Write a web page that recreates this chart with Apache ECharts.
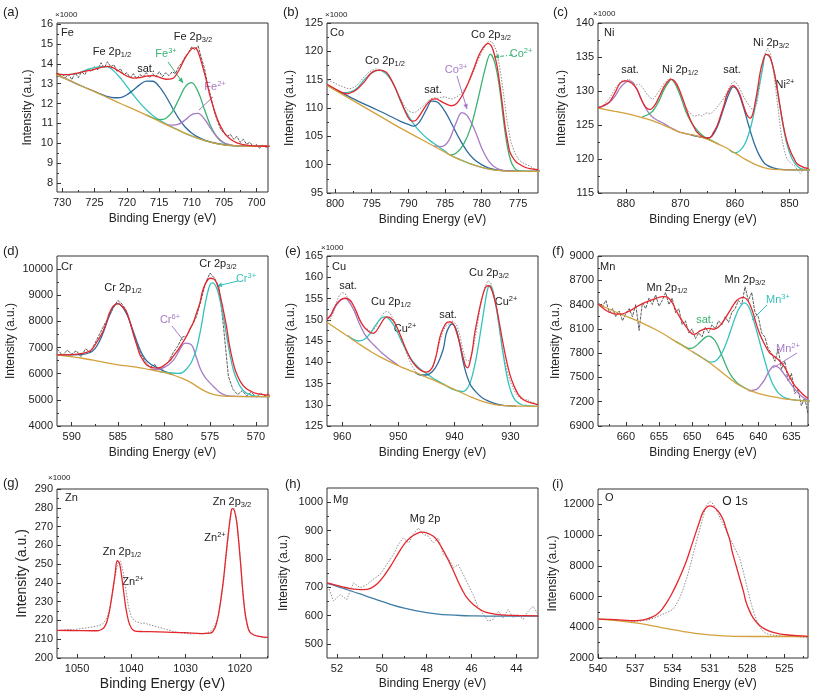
<!DOCTYPE html>
<html><head><meta charset="utf-8">
<script src="https://cdn.jsdelivr.net/npm/echarts@6/dist/echarts.min.js"></script>
<style>html,body{margin:0;padding:0;background:#fff}#c{width:813px;height:697px}</style>
</head><body><div id="c"></div><script>
// ---------------- (a) Fe  (values ×1000) ----------------
const feXTicks=[730,725,720,715,710,705,700], feXMinor=[727.5,722.5,717.5,712.5,707.5,702.5];
const feYTicks=[8,9,10,11,12,13,14,15,16], feYMinor=[8.5,9.5,10.5,11.5,12.5,13.5,14.5,15.5];
const feRaw=[[731,13.4],[730.5,13.35],[730,13.5],[729.5,13.3],[729,13.45],[728.5,13.2],[728,13.55],[727.5,13.3],[727,13.6],[726.5,13.45],[726,13.75],[725.5,13.6],[725,13.85],[724.5,13.7],[724,14.05],[723.5,13.8],[723,14.1],[722.5,13.85],[722,13.95],[721.5,13.6],[721,13.75],[720.5,13.45],[720,13.55],[719.5,13.3],[719,13.5],[718.5,13.25],[718,13.45],[717.5,13.35],[717,13.55],[716.5,13.3],[716,13.5],[715.5,13.35],[715,13.6],[714.5,13.35],[714,13.55],[713.5,13.4],[713,13.6],[712.5,13.5],[712,13.85],[711.5,14.05],[711,14.35],[710.5,14.55],[710,14.85],[709.5,14.7],[709,14.9],[708.5,14.3],[708,13.75],[707.5,12.9],[707,12.3],[706.5,11.6],[706,11.1],[705.5,10.7],[705,10.5],[704.5,10.35],[704,10.45],[703.5,10.2],[703,10.35],[702.5,10.05],[702,10.2],[701.5,9.95],[701,10.05],[700.5,9.85],[700,9.95],[699.5,9.75],[699,9.9],[698.5,9.8],[698,9.85]];
const feFit=[[731,13.52],[730,13.45],[729,13.45],[728,13.5],[727,13.58],[726,13.65],[725,13.72],[724,13.82],[723,13.87],[722,13.78],[721,13.58],[720,13.38],[719,13.28],[718,13.3],[717,13.38],[716,13.4],[715,13.32],[714,13.22],[713,13.25],[712,13.65],[711,14.3],[710,14.75],[709.5,14.8],[709,14.6],[708,13.5],[707,12.2],[706,11.2],[705,10.55],[704,10.2],[703,10.02],[702,9.93],[701,9.88],[700,9.86],[698,9.85]];
const feBg=[[731,13.45],[729,13.18],[727,12.88],[725,12.6],[723,12.3],[721,12.0],[719,11.72],[717,11.42],[715,11.1],[713,10.8],[711,10.5],[709,10.25],[707,10.05],[705,9.92],[703,9.87],[701,9.85],[698,9.85]];
const feP12=[[731,13.52],[730,13.45],[729,13.45],[728,13.49],[727,13.59],[726,13.72],[725,13.8],[724,13.86],[723,13.85],[722,13.63],[721,13.28],[720,12.86],[719,12.43],[718,12.03],[717,11.69],[716,11.4],[715,11.17],[714,10.98],[713,10.81],[712,10.66],[711,10.5],[709,10.25],[707,10.05],[705,9.92],[703,9.87],[698,9.85]];
const feSat=[[731,13.45],[729,13.18],[727,12.88],[725,12.61],[724,12.47],[723,12.35],[722,12.29],[721,12.3],[720,12.44],[719,12.68],[718,12.95],[717,13.13],[716,13.12],[715,12.85],[714,12.38],[713,11.8],[712,11.25],[711,10.82],[710,10.52],[709,10.31],[708,10.16],[707,10.06],[705,9.93],[703,9.87],[698,9.85]];
const feFe3=[[717,11.43],[716,11.28],[715,11.19],[714,11.25],[713,11.58],[712,12.2],[711,12.84],[710,13.05],[709,12.59],[708,11.69],[707,10.83],[706,10.28],[705,10.01],[704,9.91],[703,9.87],[698,9.85]];
const feFe2=[[714,10.97],[713,10.91],[712,10.96],[711,11.17],[710,11.44],[709,11.5],[708,11.21],[707,10.72],[706,10.29],[705,10.03],[704,9.92],[703,9.87],[698,9.85]];

// ---------------- (b) Co ----------------
const coXTicks=[800,795,790,785,780,775], coXMinor=[797.5,792.5,787.5,782.5,777.5];
const coYTicks=[95,100,105,110,115,120,125], coYMinor=[97.5,102.5,107.5,112.5,117.5,122.5];
const coRaw=[[801,115.0],[800.5,114.6],[800,114.4],[799.5,114.0],[799,113.8],[798.5,113.5],[798,113.4],[797.5,113.6],[797,114.0],[796.5,114.8],[796,115.5],[795.5,116.2],[795,116.6],[794.5,116.9],[794,116.8],[793.5,116.5],[793,116.1],[792.5,115.2],[792,114.0],[791.5,112.6],[791,111.5],[790.5,110.3],[790,109.5],[789.5,109.2],[789,109.3],[788.5,109.8],[788,110.3],[787.5,110.9],[787,111.6],[786.5,111.8],[786,111.7],[785.5,111.9],[785,112.0],[784.5,111.7],[784,111.6],[783.5,111.9],[783,112.3],[782.5,113.0],[782,113.9],[781.5,115.2],[781,116.7],[780.5,118.4],[780,119.8],[779.5,121.0],[779,121.8],[778.5,121.6],[778,120.2],[777.5,117.0],[777,112.5],[776.5,107.5],[776,104.0],[775.5,102.2],[775,101.0],[774.5,100.4],[774,100.1],[773.5,99.8],[773,99.4],[772.5,99.0]];
const coFit=[[801.1,114.2],[800,113.4],[799,112.7],[798.4,112.5],[797.5,112.9],[797,113.3],[796,114.6],[795.2,116.0],[794.5,116.6],[793.9,116.7],[793,116.3],[792.5,115.4],[791.8,113.6],[791.1,111.5],[790.5,109.6],[789.8,107.9],[789.3,107.7],[788.9,107.9],[788.2,109.2],[787.5,110.6],[786.8,111.5],[786.2,111.6],[785.7,111.3],[785,110.8],[784.1,110.4],[783.4,110.8],[782.7,112.1],[781.9,114.2],[781.1,116.8],[780.4,119.2],[779.8,120.6],[779.1,121.4],[778.7,121.0],[778.4,120.1],[777.9,117.5],[777.5,114.0],[777.1,110.0],[776.8,106.8],[776.4,103.8],[776.1,102.1],[775.5,100.8],[775,100.2],[774,99.5],[773.4,99.3],[772.3,99.1]];
const coBg=[[801.1,114.0],[799,112.4],[797,110.9],[795,109.4],[793,107.9],[791,106.4],[789,105.0],[787,103.6],[785,102.2],[784,101.5],[783,100.9],[781,99.9],[779,99.2],[777,98.9],[775,98.8],[772,98.8]];
const coP12=[[801.1,114.1],[800,113.3],[799,112.7],[798,112.8],[797,113.5],[796,115.0],[795,116.2],[794,116.7],[793,116.0],[792,114.2],[791,111.0],[790,108.6],[789,106.7],[788,105.3],[787,104.2],[786,103.3],[785,102.4],[784.3,101.7],[783,100.95],[781,99.9],[779,99.2],[777,98.9],[772,98.8]];
const coSat=[[801.1,114.0],[799,112.6],[797,111.3],[795,110.1],[793,108.9],[791,107.6],[790,107.1],[789.3,106.8],[788.5,107.5],[787.5,109.8],[786.8,111.2],[786,111.0],[785,109.4],[784,107.0],[783,104.5],[782,102.4],[781,100.9],[780,100.0],[779,99.4],[777,98.95],[772,98.8]];
const coCo3=[[786.5,103.3],[785.5,103.2],[784.5,104.2],[783.5,107.3],[782.7,109.2],[782,108.7],[781,106.3],[780,103.0],[779,100.6],[778,99.4],[777,99.0],[775,98.8],[772,98.8]];
const coCo2=[[784.3,101.7],[783.5,102.0],[782.5,103.5],[781.5,106.5],[780.5,111.5],[779.5,117.0],[778.8,119.5],[778.2,118.0],[777.6,114.0],[777,107.8],[776.5,103.3],[776,100.6],[775.5,99.4],[775,98.95],[774,98.8],[772,98.8]];

// ---------------- (c) Ni ----------------
const niXTicks=[880,870,860,850], niXMinor=[885,875,865,855];
const niYTicks=[115,120,125,130,135,140], niYMinor=[117.5,122.5,127.5,132.5,137.5];
const niRaw=[[885,127.8],[884.5,127.6],[884,128.0],[883.5,128.5],[883,128.9],[882.5,129.6],[882,130.3],[881.5,130.9],[881,131.3],[880.5,131.6],[880,131.5],[879.5,131.8],[879,131.4],[878.5,131.1],[878,130.9],[877.5,131.0],[877,130.6],[876.5,130.0],[876,129.4],[875.5,129.0],[875,128.8],[874.5,129.3],[874,129.9],[873.5,130.5],[873,131.1],[872.5,131.5],[872,131.9],[871.5,131.8],[871,131.3],[870.5,130.4],[870,129.5],[869.5,128.4],[869,127.6],[868.5,127.0],[868,126.6],[867.5,126.3],[867,126.4],[866.5,126.5],[866,126.3],[865.5,126.7],[865,126.8],[864.5,126.6],[864,127.0],[863.5,127.4],[863,127.9],[862.5,128.4],[862,129.0],[861.5,129.8],[861,130.6],[860.5,131.2],[860,131.4],[859.5,130.9],[859,130.2],[858.5,129.3],[858,128.6],[857.5,128.0],[857,127.4],[856.5,127.3],[856,128.1],[855.5,130.5],[855,133.0],[854.5,135.4],[854,136.3],[853.5,135.5],[853,133.4],[852.5,130.2],[852,126.8],[851.5,123.5],[851,121.5],[850.5,120.0],[850,119.6],[849.5,119.2],[849,119.0],[848.5,118.3],[848,117.9],[847.5,118.4],[847,118.7],[846.5,118.5]];
const niFit=[[885.1,127.5],[884,127.9],[883,128.4],[882.5,129.0],[882,129.7],[881,131.2],[880,131.5],[879,131.2],[878,130.3],[877.4,129.2],[876.8,128.2],[876.2,127.5],[875.5,127.3],[875,127.6],[874.4,128.3],[873.8,129.3],[873,130.6],[872.3,131.4],[871.7,131.7],[871,131.4],[870.3,130.4],[869.5,128.7],[868.8,127.1],[868.2,125.8],[867.5,124.7],[867,124.0],[866,123.3],[865,123.05],[864.3,123.3],[864,123.8],[863.3,124.8],[862.7,126.2],[862,127.9],[861.5,129.4],[860.8,130.5],[860.3,130.8],[859.6,130.3],[859,129.3],[858.4,127.8],[857.8,126.5],[857.2,126.0],[856.7,126.7],[856.3,128.2],[855.8,130.5],[855.4,132.6],[854.9,134.3],[854.3,135.4],[853.8,135.3],[853.3,134.4],[852.8,132.8],[852.3,130.6],[851.7,127.6],[851.1,124.8],[850.5,122.7],[849.9,121.3],[849.2,120.1],[848.6,119.3],[847.5,118.8],[846.5,118.6]];
const niBg=[[885.1,127.5],[882,127.0],[880,126.7],[877,126.1],[875,125.6],[872,124.6],[870,123.9],[867,123.4],[865,122.9],[862,121.8],[860,120.9],[858,119.9],[856,119.1],[854,118.6],[852,118.45],[846,118.4]];
const niSat1=[[885.1,127.5],[884,127.8],[883,128.3],[882,129.2],[881,130.5],[880,131.3],[879.2,131.5],[878,130.3],[877,128.5],[876,127.0],[875,126.1],[874,125.6],[873,125.2],[872,124.7],[871,124.3],[870,123.9],[866,123.2]];
const niP12=[[877,126.2],[876,126.5],[875,127.1],[874,128.4],[873,130.2],[872,131.5],[871.7,131.7],[871,131.1],[870,129.3],[869,127.0],[868,125.4],[867,124.3],[866,123.5],[865,123.0],[863,122.2]];
const niSat2=[[868,123.5],[866,123.2],[865,123.1],[864,123.6],[863,125.2],[862,127.6],[861,129.8],[860.3,130.6],[859.5,130.0],[858.5,127.8],[857.5,125.0],[856.5,122.4],[855.5,120.5],[854.5,119.3],[853,118.7],[851,118.45],[846,118.4]];
const niP32=[[861,121.3],[860,120.9],[859,121.3],[858,122.5],[857,125.0],[856,128.8],[855,133.0],[854.3,135.4],[853.5,134.8],[852.5,131.5],[851.5,126.5],[850.5,122.3],[849.5,120.0],[848.5,118.9],[847.5,118.5],[846,118.45]];

// ---------------- (d) Cr ----------------
const crXTicks=[590,585,580,575,570], crXMinor=[587.5,582.5,577.5,572.5];
const crYTicks=[4000,5000,6000,7000,8000,9000,10000], crYMinor=[4500,5500,6500,7500,8500,9500];
const crRaw=[[591.6,6950],[591,6700],[590.5,6900],[590,6750],[589.5,6880],[589,6650],[588.5,6950],[588,6820],[587.5,7150],[587,7500],[586.5,7850],[586,8150],[585.5,8500],[585,8800],[584.5,8650],[584,8350],[583.5,7750],[583,7200],[582.5,6750],[582,6450],[581.5,6250],[581,6350],[580.5,6150],[580,6300],[579.5,6450],[579,6800],[578.5,7050],[578,7400],[577.5,7450],[577,7800],[576.5,8150],[576,8750],[575.5,9450],[575,9850],[574.5,9650],[574,9300],[573.5,7700],[573,5900],[572.5,5400],[572,5200],[571.5,5350],[571,5150],[570.5,5300],[570,5100],[569.5,5250],[569,5150],[568.7,5250]];
const crFit=[[591.6,6720],[590,6730],[588.7,6790],[588,6870],[587.7,6980],[587.2,7250],[586.6,7620],[586.2,8000],[585.9,8330],[585.5,8580],[585,8680],[584.5,8560],[584.1,8400],[583.7,8000],[583.3,7500],[582.9,7050],[582.6,6720],[582.2,6480],[581.9,6340],[581.4,6240],[580.8,6210],[580.3,6250],[579.9,6340],[579.4,6480],[579,6660],[578.5,6890],[578.1,7110],[577.6,7400],[577.2,7690],[576.8,7970],[576.5,8270],[576.1,8700],[575.8,9160],[575.4,9500],[575,9650],[574.6,9620],[574.3,9490],[574,9150],[573.6,8520],[573.2,7800],[572.9,7110],[572.5,6450],[572.2,6080],[571.7,5700],[571.1,5440],[570.5,5320],[570,5250],[569,5190],[568.5,5180]];
const crBg=[[591.6,6720],[589,6600],[587,6470],[585,6340],[583,6250],[581,6120],[580,6050],[579,5950],[578,5820],[577,5650],[576,5420],[575,5250],[574,5160],[573,5130],[568,5120]];
const crP12=[[591.6,6720],[589,6730],[588,6810],[587.5,6950],[587,7230],[586.5,7650],[586,8150],[585.5,8550],[585,8680],[584.5,8560],[584,8250],[583.5,7800],[583,7300],[582.5,6850],[582,6550],[581.5,6380],[581,6280],[580.5,6200],[580,6100],[579,5960]];
const crCr6=[[581.5,6180],[581,6150],[580,6230],[579,6500],[578.3,6900],[577.7,7170],[577,7100],[576.5,6650],[576,6150],[575.5,5850],[575,5650],[574.5,5470],[574,5300],[573.5,5200],[573,5150],[572,5130],[568,5120]];
const crCr3=[[580.5,6080],[579.5,6040],[578.5,6010],[578,6040],[577.5,6200],[577,6450],[576.5,6900],[576,7700],[575.5,8700],[575,9400],[574.7,9470],[574.3,9300],[574,8950],[573.5,8100],[573,7050],[572.5,6200],[572,5700],[571.5,5400],[571,5250],[570,5140],[568,5120]];

// ---------------- (e) Cu ----------------
const cuXTicks=[960,950,940,930], cuXMinor=[955,945,935];
const cuYTicks=[125,130,135,140,145,150,155,160,165], cuYMinor=[127.5,132.5,137.5,142.5,147.5,152.5,157.5,162.5];
const cuRaw=[[962.5,149.6],[962,150.3],[961.5,152.0],[961,154.2],[960.5,155.8],[960,156.4],[959.5,156.2],[959,155.0],[958.5,153.6],[958,152.6],[957.5,151.4],[957,150.0],[956.5,148.8],[956,148.0],[955.5,147.8],[955,147.2],[954.5,147.5],[954,148.3],[953.5,149.6],[953,150.8],[952.5,151.7],[952,152.0],[951.5,151.6],[951,150.4],[950.5,149.2],[950,147.5],[949.5,145.8],[949,144.0],[948.5,142.0],[948,140.4],[947.5,139.0],[947,138.0],[946.5,137.1],[946,136.9],[945.5,136.7],[945,137.2],[944.5,137.6],[944,138.6],[943.5,140.3],[943,142.8],[942.5,145.4],[942,147.4],[941.5,148.6],[941,149.0],[940.5,149.8],[940,149.4],[939.5,148.5],[939,146.2],[938.5,143.0],[938,140.6],[937.5,140.3],[937,141.4],[936.5,144.2],[936,148.0],[935.5,152.2],[935,155.6],[934.5,158.0],[934,159.2],[933.5,158.6],[933,156.5],[932.5,153.0],[932,148.0],[931.5,143.3],[931,140.2],[930.5,137.4],[930,135.4],[929.5,133.8],[929,132.6],[928.5,131.7],[928,131.4],[927.5,131.0],[927,131.3],[926.5,130.7],[926,130.5],[925.5,130.3]];
const cuFit=[[962.7,150.1],[962,151.2],[961.5,152.6],[961,153.7],[960.3,154.7],[959.5,155.1],[958.8,154.8],[958.3,154.1],[957.6,152.3],[956.9,150.1],[956.2,148.5],[955.4,147.4],[954.5,146.8],[954,147.2],[953.3,148.6],[952.7,149.9],[952.1,150.7],[951.5,150.5],[950.9,149.8],[950.3,148.4],[949.7,146.6],[948.8,143.6],[947.9,141.0],[947,139.3],[946.2,138.3],[945.5,137.8],[945,137.7],[944.4,138.0],[943.8,139.1],[943.2,141.8],[942.6,145.8],[942,148.0],[941.4,149.3],[940.8,149.5],[940.2,149.0],[939.6,147.0],[939,144.2],[938.5,141.4],[938,139.1],[937.6,138.7],[937.2,140.2],[936.8,142.8],[936.4,146.6],[935.8,150.8],[935.2,154.5],[934.7,156.8],[934.3,157.9],[933.9,158.0],[933.5,157.5],[933,155.6],[932.5,152.9],[931.9,148.6],[931.3,144.2],[930.7,140.3],[930.1,137.1],[929.4,134.5],[928.6,132.4],[927.8,131.3],[927.1,130.8],[926,130.3],[925.1,130.0]];
const cuBg=[[962.7,149.4],[961,147.9],[959,146.1],[957,144.3],[955,142.6],[953,141.1],[951,139.8],[949,138.6],[947,137.6],[945,136.5],[943,135.4],[941,134.2],[939,133.0],[937,131.8],[935,130.8],[933,130.1],[931,129.8],[929,129.7],[925,129.6]];
const cuSat1=[[962.7,150.0],[962,151.0],[961,153.5],[960,154.8],[959.5,155.0],[959,154.6],[958,152.5],[957,149.3],[956,146.6],[955,144.9],[954,143.6],[953,142.3],[952,141.2],[951,140.2],[950,139.3]];
const cuP=[[959,146.3],[958,145.4],[957,145.0],[956,145.4],[955,146.8],[954,148.8],[953,150.4],[952.3,150.7],[951.5,150.0],[950.5,148.0],[949.5,145.2],[948.5,142.5],[947.5,140.4],[946.5,138.9],[945.5,137.8],[944.5,136.9],[943.5,136.0],[942,134.9],[940.5,133.7],[939.5,133.3],[938.5,133.1],[938,133.4],[937.5,134.3],[937,135.9],[936.5,138.5],[936,141.8],[935.5,145.8],[935,150.0],[934.5,154.2],[934,157.6],[933.6,158.0],[933,156.0],[932.5,152.5],[932,148.3],[931.5,143.6],[931,139.4],[930.5,135.9],[930,133.4],[929.5,131.8],[929,130.8],[928,130.0],[927,129.8],[925,129.6]];
const cuSat2=[[947,137.6],[946,137.0],[945,137.0],[944,137.7],[943,139.6],[942,143.0],[941.5,146.5],[941,148.2],[940.5,149.0],[940,148.6],[939.5,147.0],[939,144.0],[938.5,140.5],[938,137.8],[937.5,135.8],[937,134.4],[936,132.8],[935,131.6],[934,130.9],[933,130.4],[932,130.0],[931,129.8],[929,129.7]];

// ---------------- (f) Mn ----------------
const mnXTicks=[660,655,650,645,640,635], mnXMinor=[662.5,657.5,652.5,647.5,642.5,637.5,632.5];
const mnYTicks=[6900,7200,7500,7800,8100,8400,8700,9000], mnYMinor=[7050,7350,7650,7950,8250,8550,8850];
const mnRaw=[[664.2,8420],[663.5,8380],[663,8450],[662.5,8300],[662,8350],[661.5,8250],[661,8320],[660.5,8200],[660,8290],[659.5,8350],[659,8250],[658.5,8400],[658,8080],[657.5,8420],[657,8350],[656.5,8480],[656,8400],[655.5,8520],[655,8380],[654.5,8450],[654,8550],[653.5,8400],[653,8480],[652.5,8300],[652,8350],[651.5,8150],[651,8200],[650.5,8050],[650,8100],[649.5,7980],[649,8050],[648.5,8000],[648,8120],[647.5,8050],[647,8150],[646.5,8100],[646,8200],[645.5,8150],[645,8250],[644.5,8180],[644,8300],[643.5,8350],[643,8450],[642.5,8400],[642,8620],[641.5,8450],[641,8550],[640.5,8300],[640,8250],[639.5,8050],[639,8000],[638.5,7850],[638,7800],[637.5,7700],[637,7850],[636.5,7600],[636,7700],[635.5,7450],[635,7550],[634.5,7300],[634,7350],[633.5,7150],[633,7250],[632.5,7050]];
const mnFit=[[664.2,8407],[663.5,8360],[662.9,8323],[662,8290],[661.4,8282],[660.5,8285],[659.9,8303],[659,8340],[658.4,8373],[657.4,8415],[656.4,8448],[655.4,8478],[654.4,8498],[653.8,8495],[653.4,8469],[652.9,8410],[652.4,8323],[651.6,8210],[650.8,8116],[650.3,8060],[649.8,8033],[649.3,8045],[648.8,8075],[647.8,8104],[647.3,8105],[646.8,8095],[646.2,8110],[645.6,8158],[645,8230],[644.3,8323],[643.8,8390],[643.3,8448],[642.8,8478],[642.3,8490],[641.8,8470],[641.3,8407],[640.8,8300],[640.3,8158],[639.8,8040],[639.3,7950],[638.8,7870],[638.3,7805],[637.8,7770],[637.3,7742],[636.8,7705],[636.3,7659],[635.7,7580],[635.2,7494],[634.5,7400],[633.7,7328],[633,7270],[632.5,7245]];
const mnBg=[[664.2,8407],[661,8290],[658,8190],[655,8070],[653,7970],[651,7870],[649,7770],[647,7660],[645,7530],[643,7410],[641,7330],[639,7280],[637,7250],[635,7225],[633,7210],[632,7205]];
const mnSat=[[652.5,7945],[651.5,7900],[650.5,7860],[650,7862],[649.5,7885],[649,7920],[648.5,7960],[648,7995],[647.5,8010],[647,7995],[646.5,7950],[646,7870],[645.5,7770],[645,7670],[644.5,7580],[644,7510],[643.5,7460],[643,7420],[642,7370],[641,7330]];
const mnMn3=[[650,7820],[649,7770],[648,7720],[647.3,7690],[646.5,7700],[646,7740],[645.5,7800],[645,7890],[644.5,8000],[644,8120],[643.5,8240],[643,8340],[642.5,8400],[642.1,8420],[641.5,8380],[641,8280],[640.5,8150],[640,8000],[639.5,7850],[639,7700],[638.5,7560],[638,7450],[637.5,7370],[637,7310],[636.5,7275],[636,7250],[635,7225],[633,7210],[632,7205]];
const mnMn2=[[641.5,7335],[640.5,7345],[640,7370],[639.5,7420],[639,7480],[638.5,7560],[638,7620],[637.6,7645],[637,7625],[636.5,7585],[636,7530],[635.5,7470],[635,7410],[634.5,7355],[634,7310],[633.5,7270],[633,7240],[632.5,7225]];

// ---------------- (g) Zn ----------------
const znXTicks=[1050,1040,1030,1020], znXMinor=[1045,1035,1025,1015];
const znYTicks=[200,210,220,230,240,250,260,270,280,290], znYMinor=[205,215,225,235,245,255,265,275,285];
const znRaw=[[1053.5,214.6],[1052.5,214.9],[1051.5,215.2],[1050.5,215.0],[1049.5,215.6],[1048.5,215.9],[1047.5,216.4],[1046.5,216.9],[1045.5,217.8],[1045,219.0],[1044.5,221.5],[1044,226.0],[1043.5,233.5],[1043,243.0],[1042.5,250.5],[1042,251.5],[1041.5,246.0],[1041,236.0],[1040.5,227.0],[1040,222.0],[1039.5,220.0],[1039,219.2],[1038.5,218.8],[1038,218.4],[1037.5,218.6],[1037,218.0],[1036.5,217.6],[1036,217.2],[1035,216.4],[1034,215.6],[1033,214.8],[1032,214.0],[1031,213.4],[1030,213.0],[1029,212.8],[1028,213.0],[1027,212.8],[1026,213.4],[1025.5,214.2],[1025,215.2],[1024.5,217.5],[1024,222.0],[1023.5,230.0],[1023,240.5],[1022.5,255.0],[1022,269.0],[1021.5,278.5],[1021,279.5],[1020.5,272.0],[1020,256.0],[1019.5,237.0],[1019,222.5],[1018.5,216.0],[1018,213.5],[1017.5,212.4],[1017,212.0],[1016.5,211.6],[1016,211.2],[1015.5,210.8],[1015,210.6]];
const znFit=[[1053.7,214.7],[1050,214.6],[1047,214.5],[1046,214.6],[1045.5,215.2],[1045,216.3],[1044.5,219.3],[1044,225.5],[1043.5,234.5],[1043,244.5],[1042.6,251.8],[1042.2,250.5],[1041.8,244.0],[1041.4,235.0],[1041,226.5],[1040.5,219.5],[1040,216.0],[1039.5,214.6],[1039,214.2],[1038,214.1],[1035,213.9],[1030,213.5],[1027,213.0],[1025.5,213.2],[1025,214.0],[1024.5,216.5],[1024,222.0],[1023.5,231.0],[1023,242.0],[1022.5,256.0],[1022,269.0],[1021.7,276.0],[1021.4,279.5],[1021,278.5],[1020.6,273.0],[1020.2,262.0],[1019.8,248.5],[1019.4,234.0],[1019,223.5],[1018.6,217.5],[1018.2,214.0],[1017.5,212.4],[1016.5,211.5],[1015.5,211.1],[1014.8,211.0]];

// ---------------- (h) Mg ----------------
const mgXTicks=[52,50,48,46,44], mgXMinor=[51,49,47,45];
const mgYTicks=[500,600,700,800,900,1000], mgYMinor=[550,650,750,850,950];
const mgRaw=[[52.44,713],[52.15,651],[51.85,674],[51.56,656],[51.26,715],[50.96,698],[50.67,709],[50.4,727],[50.07,745],[49.78,780],[49.48,815],[49.26,851],[49.04,874],[48.8,856],[48.6,886],[48.37,909],[48.15,886],[47.93,880],[47.7,856],[47.48,874],[47.26,815],[47.04,804],[46.81,768],[46.6,780],[46.37,745],[46.15,709],[45.93,674],[45.7,627],[45.48,604],[45.26,580],[45.04,586],[44.8,615],[44.6,592],[44.37,621],[44.15,592],[43.93,604],[43.7,586],[43.48,615],[43.26,633],[43.04,604]];
const mgFit=[[52.44,715],[52,706],[51.7,700],[51.4,695],[51.1,692],[50.8,691],[50.5,696],[50.2,712],[49.9,740],[49.6,775],[49.3,815],[49,852],[48.7,877],[48.4,891],[48.2,894],[48,892],[47.7,880],[47.5,862],[47.26,830],[47,790],[46.8,756],[46.6,720],[46.4,688],[46.2,662],[45.9,637],[45.5,616],[45.2,608],[44.9,604],[44.5,601],[44,600],[43.04,599]];
const mgBg=[[52.44,713],[52,703],[51.5,690],[51,677],[50.5,663],[50,650],[49.5,637],[49,626],[48.5,617],[48,610],[47.5,605],[47,602],[46.5,600],[46,599],[45,598],[43,598]];

// ---------------- (i) O ----------------
const oXTicks=[540,537,534,531,528,525], oXMinor=[538.5,535.5,532.5,529.5,526.5,523.5];
const oYTicks=[2000,4000,6000,8000,10000,12000], oYMinor=[3000,5000,7000,9000,11000];
const oRaw=[[540,4520],[539.5,4540],[539,4480],[538.5,4450],[538,4420],[537.5,4400],[537,4380],[536.5,4420],[536,4470],[535.5,4600],[535,4780],[534.5,4950],[534,5150],[533.7,5500],[533.4,5950],[533.1,6600],[532.8,7350],[532.5,8250],[532.2,9200],[531.9,10100],[531.6,11000],[531.3,11900],[531,12200],[530.7,12000],[530.4,11500],[530.1,11000],[529.8,10500],[529.5,9950],[529.2,9500],[528.9,9000],[528.6,8500],[528.3,7600],[528,6600],[527.7,5600],[527.4,4800],[527.1,4200],[526.8,3800],[526.5,3600],[526,3500],[525.5,3450],[525,3420],[524.5,3430],[524,3380],[523.5,3350],[523.1,3320]];
const oFit=[[540,4530],[539,4510],[538.5,4490],[538,4470],[537.2,4423],[536.6,4450],[536.1,4530],[535.7,4650],[535.3,4812],[534.9,5120],[534.5,5570],[534.1,6120],[533.7,6760],[533.3,7480],[532.9,8276],[532.5,9250],[532.1,10225],[531.8,10950],[531.6,11415],[531.3,11780],[531,11900],[530.7,11830],[530.4,11620],[530.2,11415],[529.9,10950],[529.7,10441],[529.4,9700],[529.2,8926],[528.9,8050],[528.6,7194],[528.3,6350],[528.1,5678],[527.8,5050],[527.5,4596],[527.1,4200],[526.7,3946],[526.3,3780],[525.9,3665],[525.4,3570],[524.9,3513],[524,3450],[523.1,3405]];
const oBg=[[540,4553],[539,4470],[538,4380],[537,4280],[536,4150],[535,4000],[534,3840],[533,3700],[532,3580],[531,3500],[530,3440],[529,3410],[527,3400],[523,3400]];

// ---------------- styling / layout ----------------
const FONT='"Liberation Sans", Arial, Helvetica, sans-serif';
const C={red:'#E5262C',bg:'#D2A13C',cyan:'#35C2BC',blue:'#2F6B9E',green:'#39B273',purple:'#A67BC6',rawD:'#4a4a4a',raw:'#8e8e8e',mgbg:'#3E7EA6'};
const panels=[
 {g:[57,23,211,169],x:[698.2,730.8],y:[7.55,16.05],xt:feXTicks,xm:feXMinor,yt:feYTicks,ym:feYMinor,xg:21,yg:23,fs:12,
  s:[[feRaw,'rawD'],[feP12,'cyan'],[feSat,'blue'],[feFe3,'green'],[feFe2,'purple'],[feBg,'bg'],[feFit,'red']]},
 {g:[327,23,211,170],x:[772.3,801.1],y:[95,125],xt:coXTicks,xm:coXMinor,yt:coYTicks,ym:coYMinor,xg:21,yg:31,fs:12,
  s:[[coRaw,'raw'],[coP12,'cyan'],[coSat,'blue'],[coCo3,'purple'],[coCo2,'green'],[coBg,'bg'],[coFit,'red']]},
 {g:[598,23,210,170],x:[846.6,885.1],y:[115,140],xt:niXTicks,xm:niXMinor,yt:niYTicks,ym:niYMinor,xg:21,yg:30,fs:12,
  s:[[niRaw,'raw'],[niSat1,'purple'],[niP12,'green'],[niSat2,'blue'],[niP32,'cyan'],[niBg,'bg'],[niFit,'red']]},
 {g:[57,256,211,170],x:[568.7,591.6],y:[4000,10500],xt:crXTicks,xm:crXMinor,yt:crYTicks,ym:crYMinor,xg:21,yg:40,fs:12,
  s:[[crRaw,'rawD'],[crP12,'blue'],[crCr6,'purple'],[crCr3,'cyan'],[crBg,'bg'],[crFit,'red']]},
 {g:[327,256,211,170],x:[925.1,962.7],y:[125,165],xt:cuXTicks,xm:cuXMinor,yt:cuYTicks,ym:cuYMinor,xg:21,yg:30,fs:12,
  s:[[cuRaw,'raw'],[cuSat1,'purple'],[cuP,'cyan'],[cuSat2,'blue'],[cuBg,'bg'],[cuFit,'red']]},
 {g:[598,256,210,170],x:[632.5,664.2],y:[6900,9000],xt:mnXTicks,xm:mnXMinor,yt:mnYTicks,ym:mnYMinor,xg:21,yg:36,fs:12,
  s:[[mnRaw,'rawD'],[mnSat,'green'],[mnMn3,'cyan'],[mnMn2,'purple'],[mnBg,'bg'],[mnFit,'red']]},
 {g:[57,489,211,169],x:[1014.8,1053.7],y:[200,290],xt:znXTicks,xm:znXMinor,yt:znYTicks,ym:znYMinor,xg:19,yg:28,fs:14,
  s:[[znRaw,'raw'],[znFit,'red']]},
 {g:[327,488,211,170],x:[43.04,52.44],y:[450,1050],xt:mgXTicks,xm:mgXMinor,yt:mgYTicks,ym:mgYMinor,xg:20,yg:37,fs:12,
  s:[[mgRaw,'raw'],[mgBg,'mgbg'],[mgFit,'red']]},
 {g:[598,489,210,169],x:[523.1,540],y:[2000,13000],xt:oXTicks,xm:oXMinor,yt:oYTicks,ym:oYMinor,xg:20,yg:39,fs:12,
  s:[[oRaw,'raw'],[oBg,'bg'],[oFit,'red']]}
];
const grids=[],xAxes=[],yAxes=[],series=[];
const TK='#333';
panels.forEach((p,i)=>{
  grids.push({left:p.g[0],top:p.g[1],width:p.g[2],height:p.g[3],show:true,borderColor:TK,borderWidth:1});
  const nameStyle={fontSize:p.fs,fontFamily:FONT,color:'#222'};
  const lab={fontSize:11,color:'#222',fontFamily:FONT,formatter:v=>String(v)};
  xAxes.push({type:'value',gridIndex:i,min:p.x[0],max:p.x[1],inverse:true,position:'bottom',
    axisLine:{show:false},splitLine:{show:false},
    axisTick:{show:true,inside:true,length:4,customValues:p.xt,lineStyle:{color:TK}},
    axisLabel:Object.assign({customValues:p.xt,margin:5},lab),
    name:'Binding Energy (eV)',nameLocation:'middle',nameGap:p.xg,nameTextStyle:nameStyle});
  xAxes.push({type:'value',gridIndex:i,min:p.x[0],max:p.x[1],inverse:true,position:'bottom',
    axisLine:{show:false},splitLine:{show:false},axisLabel:{show:false},
    axisTick:{show:true,inside:true,length:2,customValues:p.xm,lineStyle:{color:TK}}});
  yAxes.push({type:'value',gridIndex:i,min:p.y[0],max:p.y[1],position:'left',
    axisLine:{show:false},splitLine:{show:false},
    axisTick:{show:true,inside:true,length:4,customValues:p.yt,lineStyle:{color:TK}},
    axisLabel:Object.assign({customValues:p.yt,margin:4},lab),
    name:'Intensity (a.u.)',nameLocation:'middle',nameGap:p.yg,nameTextStyle:nameStyle});
  yAxes.push({type:'value',gridIndex:i,min:p.y[0],max:p.y[1],position:'left',
    axisLine:{show:false},splitLine:{show:false},axisLabel:{show:false},
    axisTick:{show:true,inside:true,length:2,customValues:p.ym,lineStyle:{color:TK}}});
  p.s.forEach(([data,kind])=>{
    const raw=kind==='raw'||kind==='rawD';
    series.push({type:'line',data:data,xAxisIndex:2*i,yAxisIndex:2*i,showSymbol:false,silent:true,animation:false,
      smooth:raw?false:0.35,clip:true,
      z:raw?1:(kind==='red'?5:(kind==='bg'||kind==='mgbg'?4:3)),
      lineStyle:raw?{color:C[kind],width:kind==='rawD'?0.9:1,type:kind==='rawD'?[3,1]:[1.5,1.5]}
                   :{color:C[kind],width:1.3}});
  });
});

// ---------------- annotations ----------------
const G=[];
const rich={s:{fontSize:7.5,fontFamily:FONT,padding:[6,0,0,0]},p:{fontSize:7.5,fontFamily:FONT,padding:[0,0,6,0]}};
function T(x,y,text,o){o=o||{};
  const r={s:Object.assign({fill:o.c||'#222'},rich.s),p:Object.assign({fill:o.c||'#222'},rich.p)};
  G.push({type:'text',x:x,y:y,silent:true,style:{text:text,fill:o.c||'#222',fontSize:o.fs||11,fontFamily:FONT,
    align:o.a||'center',verticalAlign:'middle',rich:r}});}
function L(x1,y1,x2,y2,c,head,dash){
  G.push({type:'line',silent:true,shape:{x1,y1,x2,y2},style:{stroke:c,lineWidth:1,lineDash:dash||null}});
  if(head){const dx=x2-x1,dy=y2-y1,l=Math.hypot(dx,dy),ux=dx/l,uy=dy/l,h=5,w=2.3;
    G.push({type:'polygon',silent:true,shape:{points:[[x2,y2],[x2-ux*h-uy*w,y2-uy*h+ux*w],[x2-ux*h+uy*w,y2-uy*h-ux*w]]},style:{fill:c}});}
}
// panel letters
[['(a)',3,12],['(b)',283,12],['(c)',553,12],['(d)',3,251],['(e)',285,251],['(f)',552,251],['(g)',3,483],['(h)',285,484],['(i)',552,484]]
 .forEach(d=>T(d[1],d[2],d[0],{a:'left',fs:13}));
// ×1000
[[55,15],[325,15],[593,14],[321,248],[48,478]].forEach(d=>T(d[0],d[1],'×1000',{a:'left',fs:8}));
// element names
[['Fe',61,33],['Co',330,33],['Ni',604,33],['Cr',61,267],['Cu',332,267],['Mn',600,267],['Zn',65,498],['Mg',333,500],['O',605,498]]
 .forEach(d=>T(d[1],d[2],d[0],{a:'left'}));
// (a)
T(112,52,'Fe 2p{s|1/2}'); T(146,69,'sat.'); T(193,37,'Fe 2p{s|3/2}');
T(166,54,'Fe{p|3+}',{c:C.green}); L(168,62,183,83,C.green,true);
T(215,87,'Fe{p|2+}',{c:C.purple}); L(213,97,199,110,C.purple,false);
// (b)
T(385,61,'Co 2p{s|1/2}'); T(433,90,'sat.'); T(491,35,'Co 2p{s|3/2}');
T(456,70,'Co{p|3+}',{c:C.purple}); L(457,76,467,109,C.purple,true);
T(521,54,'Co{p|2+}',{c:C.green}); L(513,55,494,57,C.green,true,[4,2,1,2]);
// (c)
T(630,70,'sat.'); T(680,70,'Ni 2p{s|1/2}'); T(732,70,'sat.'); T(771,43,'Ni 2p{s|3/2}'); T(785,85,'Ni{p|2+}');
// (d)
T(123,288,'Cr 2p{s|1/2}'); T(218,264,'Cr 2p{s|3/2}');
T(246,279,'Cr{p|3+}',{c:C.cyan}); L(238,281,217,286,C.cyan,true);
T(170,320,'Cr{p|6+}',{c:C.purple}); L(172,326,183,340,C.purple,false);
// (e)
T(348,286,'sat.'); T(391,302,'Cu 2p{s|1/2}'); T(405,329,'Cu{p|2+}'); T(448,315,'sat.'); T(489,273,'Cu 2p{s|3/2}'); T(506,302,'Cu{p|2+}');
// (f)
T(667,288,'Mn 2p{s|1/2}'); T(745,280,'Mn 2p{s|3/2}'); T(705,320,'sat.',{c:C.green});
T(778,300,'Mn{p|3+}',{c:C.cyan}); L(767,305,752,320,C.cyan,false);
T(788,349,'Mn{p|2+}',{c:C.purple}); L(797,353,773,368,C.purple,false);
// (g)
T(122,552,'Zn 2p{s|1/2}'); T(133,582,'Zn{p|2+}'); T(232,502,'Zn 2p{s|3/2}'); T(215,538,'Zn{p|2+}');
// (h),(i)
T(425,519,'Mg 2p'); T(735,502,'O 1s',{fs:12});

const chart=echarts.init(document.getElementById('c'),null,{renderer:'canvas'});
chart.setOption({animation:false,backgroundColor:'#fff',grid:grids,xAxis:xAxes,yAxis:yAxes,series:series,graphic:G});
</script></body></html>
